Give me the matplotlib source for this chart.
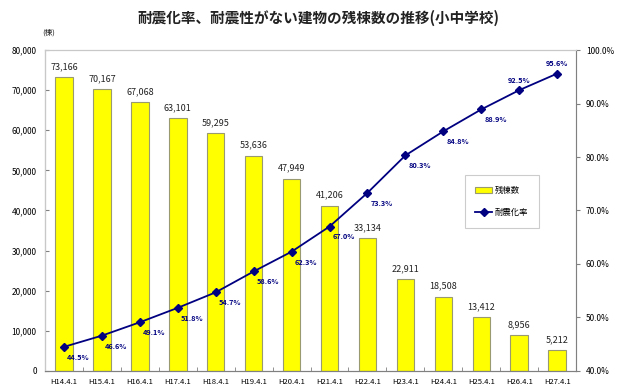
import matplotlib
matplotlib.use("Agg")
import matplotlib.pyplot as plt
from matplotlib.ticker import FuncFormatter, MultipleLocator
import numpy as np

plt.rcParams['font.family'] = ['Noto Sans CJK JP', 'DejaVu Sans']

categories = ["H14.4.1", "H15.4.1", "H16.4.1", "H17.4.1", "H18.4.1", "H19.4.1", "H20.4.1",
              "H21.4.1", "H22.4.1", "H23.4.1", "H24.4.1", "H25.4.1", "H26.4.1", "H27.4.1"]
remaining = [73166, 70167, 67068, 63101, 59295, 53636, 47949,
             41206, 33134, 22911, 18508, 13412, 8956, 5212]
rate = [44.5, 46.6, 49.1, 51.8, 54.7, 58.6, 62.3,
        67.0, 73.3, 80.3, 84.8, 88.9, 92.5, 95.6]

navy = "#000080"
x = np.arange(len(categories))

fig = plt.figure(figsize=(6.19, 3.88), dpi=100)
ax = fig.add_axes([0.0727, 0.044, 0.858, 0.827])
ax2 = ax.twinx()

bars = ax.bar(x, remaining, width=0.46, color="#FFFF00", edgecolor="#9A9A70",
              linewidth=0.8, label="残棟数", zorder=2)
for xi, v in zip(x, remaining):
    ax.text(xi, v + 1500, f"{v:,}", ha="center", va="bottom", fontsize=6.5, color="#222222")

ax.set_xlim(-0.5, len(categories) - 0.5)
ax.set_ylim(0, 80000)
ax.yaxis.set_major_locator(MultipleLocator(10000))
ax.yaxis.set_major_formatter(FuncFormatter(lambda v, p: f"{int(v):,}"))
ax.set_xticks(x)
ax.set_xticklabels(categories)
ax.set_xticks(np.arange(-0.5, len(categories)), minor=True)
ax.tick_params(axis="x", which="major", length=0, labelsize=5.5, pad=5)
ax.tick_params(axis="x", which="minor", length=3, direction="in", color="#808080")
ax.tick_params(axis="y", labelsize=6, length=3, direction="in", color="#808080", pad=6)

line, = ax2.plot(x, rate, color=navy, lw=1.3, marker="D", markersize=4.5, label="耐震化率", zorder=3)
for xi, r in zip(x, rate):
    if r > 90:
        ax2.text(xi, r + 1.2, f"{r:.1f}%", ha="center", va="bottom", fontsize=5.3, color=navy,
                 fontweight="bold")
    else:
        ax2.text(xi + 0.08, r - 1.3, f"{r:.1f}%", ha="left", va="top", fontsize=5.3, color=navy,
                 fontweight="bold")
ax2.set_ylim(40, 100)
ax2.yaxis.set_major_locator(MultipleLocator(10))
ax2.yaxis.set_major_formatter(FuncFormatter(lambda v, p: f"{v:.1f}%"))
ax2.tick_params(axis="y", labelsize=6, length=3, direction="out", color="#808080", pad=4)

for a in (ax, ax2):
    for s in a.spines.values():
        s.set_color("#C8C8C8")
        s.set_linewidth(0.8)
ax.spines["left"].set_color("#808080")
ax.spines["bottom"].set_color("#808080")
ax2.spines["right"].set_color("#808080")
ax2.spines["bottom"].set_color("#808080")

leg = ax2.legend([bars, line], ["残棟数", "耐震化率"], loc="upper left",
                 bbox_to_anchor=(0.79, 0.61), fontsize=6, frameon=True, fancybox=False,
                 edgecolor="#C0C0C0", borderpad=1.3, labelspacing=1.6, handlelength=2.0,
                 handletextpad=0.3, borderaxespad=0)
leg.get_frame().set_linewidth(0.8)
leg._legend_box.align = "left"

fig.text(0.515, 0.955, "耐震化率、耐震性がない建物の残棟数の推移(小中学校)", ha="center", va="center",
         fontsize=10.5, fontweight="bold", color="#222222")
fig.text(0.078, 0.915, "(棟)", ha="center", va="center", fontsize=5.5, color="#222222")

fig.savefig("out.png", dpi=100)
